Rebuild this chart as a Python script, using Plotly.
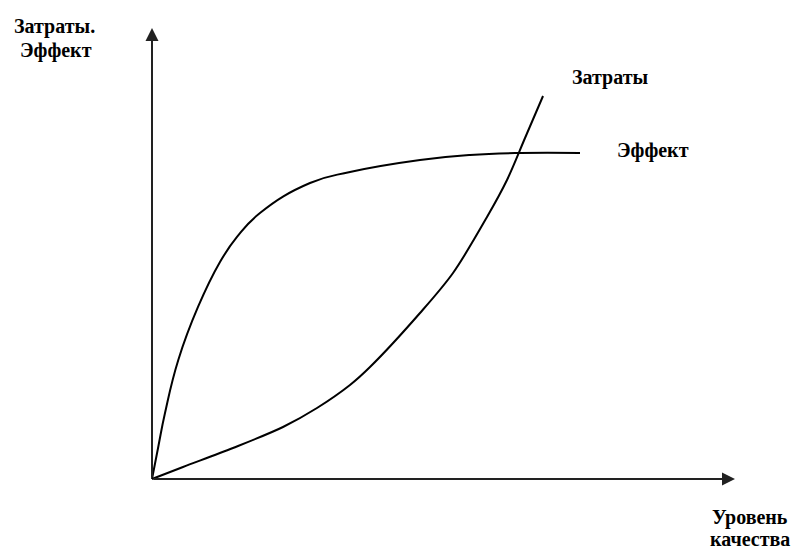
import plotly.graph_objects as go

## DATA ##
# уровень качества / эффект (условные единицы, оси 0..100)
effect_x = [0, 1.08, 2.23, 4.51, 7.89, 11.66, 14.58, 18.52, 27.10, 33.96, 45.97, 54.55, 63.12, 73.41]
effect_y = [0, 7.16, 14.63, 26.39, 38.14, 48.12, 53.66, 58.98, 65.63, 68.07, 70.73, 71.84, 72.28, 72.28]

cost_x = [0, 5.32, 13.89, 22.47, 28.30, 33.96, 37.39, 45.97, 51.63, 57.46, 60.89, 63.98, 67.07]
cost_y = [0, 2.66, 6.87, 11.53, 15.74, 20.84, 24.83, 36.81, 45.68, 58.09, 66.30, 75.61, 84.92]

axis_end = [100, 100]  # концы стрелок осей (x, y)

W, H = 797, 552
FONT = dict(family="Liberation Serif, Times New Roman, serif", size=20, color="black")

fig = go.Figure()

for xs, ys, smooth in ((effect_x, effect_y, 1.3), (cost_x, cost_y, 0.9)):
    fig.add_trace(go.Scatter(
        x=xs, y=ys,
        mode='lines',
        line=dict(color='black', width=2, shape='spline', smoothing=smooth),
        showlegend=False,
        hoverinfo='skip',
    ))

# оси со стрелками
for tx, ty in ((axis_end[0], 0), (0, axis_end[1])):
    fig.add_annotation(
        x=tx, y=ty, ax=0, ay=0,
        xref='x', yref='y', axref='x', ayref='y',
        showarrow=True, arrowhead=2, arrowsize=1.3, arrowwidth=2,
        arrowcolor='#222', text='',
    )

def label(text, px, py):
    fig.add_annotation(
        x=px / W, y=1 - py / H, xref='paper', yref='paper',
        text=f"<b>{text}</b>", showarrow=False, font=FONT,
        xanchor='center', yanchor='middle', align='center',
    )

label("Затраты.", 54, 27)
label("Эффект", 56, 51)
label("Затраты", 610, 78)
label("Эффект", 653, 150)
label("Уровень", 750, 517)
label("качества", 750, 539)

fig.update_layout(
    width=W, height=H,
    margin=dict(l=0, r=0, t=0, b=0),
    plot_bgcolor='white',
    paper_bgcolor='white',
    xaxis=dict(range=[-26.07, 110.63], visible=False, fixedrange=True),
    yaxis=dict(range=[-16.19, 106.21], visible=False, fixedrange=True),
)

# убрать стандартный отступ body, чтобы фигура начиналась с (0, 0)
fig.write_html("out.html", config=dict(displayModeBar=False),
               post_script="document.body.style.margin='0';")
